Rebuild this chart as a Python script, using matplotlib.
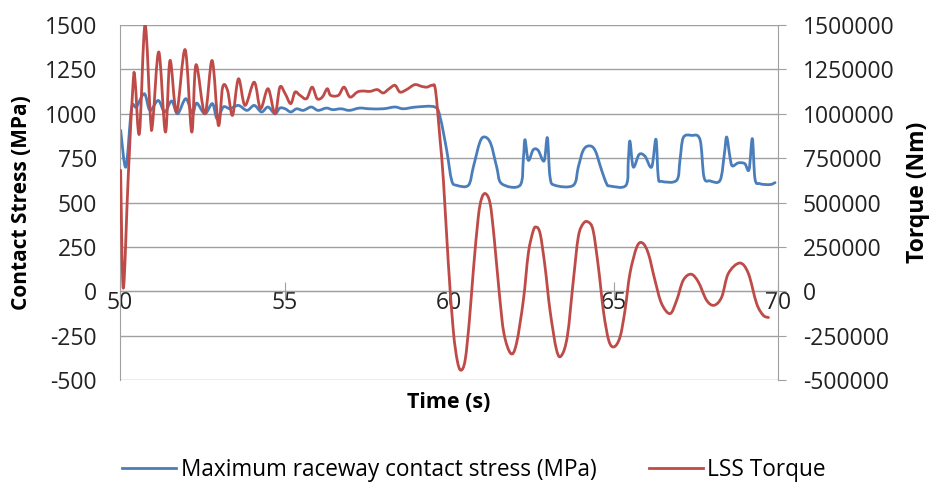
import matplotlib
matplotlib.use('Agg')
import matplotlib.pyplot as plt
from matplotlib.ticker import StrMethodFormatter
from matplotlib.path import Path
from matplotlib.patches import PathPatch
from matplotlib.lines import Line2D

plt.rcParams['font.family'] = ['Open Sans', 'DejaVu Sans']
plt.rcParams['axes.unicode_minus'] = False

# Maximum raceway contact stress (MPa)
stress_t = [50.02, 50.18, 50.35, 50.5, 50.74, 50.91, 51.16, 51.36, 51.57, 51.75,
            52.0, 52.2, 52.33, 52.58, 52.81, 52.95, 53.14, 53.34, 53.6, 53.86,
            54.08, 54.3, 54.5, 54.71, 54.86, 55.02, 55.19, 55.37, 55.57, 55.81,
            56.02, 56.27, 56.47, 56.72, 56.97, 57.28, 57.58, 58.0, 58.36, 58.61,
            59.01, 59.57, 59.73, 59.93, 60.08, 60.23, 60.59, 60.74, 60.94, 61.09,
            61.27, 61.45, 61.6, 62.16, 62.26, 62.31, 62.41, 62.56, 62.71, 62.89,
            62.99, 63.07, 63.22, 63.78, 63.93, 64.08, 64.26, 64.44, 64.64, 64.79,
            64.89, 65.38, 65.45, 65.5, 65.6, 65.78, 65.96, 66.16, 66.29, 66.36,
            66.46, 66.92, 67.02, 67.12, 67.37, 67.63, 67.75, 67.93, 68.24, 68.37,
            68.44, 68.54, 68.61, 68.79, 68.99, 69.12, 69.22, 69.3, 69.45, 69.76,
            69.91]
stress_mpa = [907, 700, 1029, 1038, 1113, 1019, 1075, 1010, 1072, 1000,
              1085, 1000, 1060, 1000, 1057, 972, 1038, 1029, 1047, 1019,
              1047, 1010, 1038, 1000, 1032, 1028, 1010, 1028, 1019, 1038,
              1019, 1032, 1023, 1028, 1019, 1032, 1028, 1028, 1038, 1028,
              1038, 1038, 981, 794, 625, 597, 597, 700, 841, 869,
              831, 700, 606, 597, 747, 854, 738, 797, 794, 734,
              865, 644, 597, 597, 700, 794, 819, 794, 681, 606,
              593, 597, 738, 846, 700, 771, 760, 700, 856, 644,
              619, 625, 738, 865, 878, 854, 644, 622, 625, 775,
              869, 756, 706, 723, 719, 685, 860, 634, 606, 601,
              612]

# LSS torque (Nm)
torque_t = [50.02, 50.1, 50.25, 50.4, 50.46, 50.59, 50.76, 50.93, 51.0, 51.18,
            51.38, 51.52, 51.72, 51.98, 52.18, 52.31, 52.58, 52.8, 52.99, 53.12,
            53.27, 53.42, 53.6, 53.8, 54.08, 54.27, 54.5, 54.71, 54.86, 55.02,
            55.19, 55.32, 55.47, 55.67, 55.84, 55.99, 56.15, 56.3, 56.4, 56.64,
            56.81, 56.99, 57.21, 57.37, 57.6, 57.82, 58.0, 58.18, 58.36, 58.51,
            58.71, 58.96, 59.17, 59.33, 59.49, 59.59, 59.73, 59.83, 59.98, 60.13,
            60.25, 60.36, 60.49, 60.62, 60.74, 60.89, 60.99, 61.11, 61.25, 61.37,
            61.53, 61.67, 61.88, 62.05, 62.26, 62.41, 62.55, 62.64, 62.77, 62.92,
            63.07, 63.27, 63.42, 63.6, 63.78, 63.93, 64.08, 64.23, 64.38, 64.54,
            64.7, 64.86, 65.02, 65.2, 65.35, 65.5, 65.71, 65.88, 66.06, 66.26,
            66.46, 66.72, 66.92, 67.12, 67.36, 67.58, 67.83, 68.06, 68.29, 68.49,
            68.84, 69.1, 69.35, 69.55, 69.71]
torque_nm = [681000, 17000, 644000, 1178000, 1185000, 889000, 1500000, 963000, 963000, 1348000,
             897000, 1300000, 1010000, 1361000, 897000, 1276000, 1000000, 1300000, 935000, 1150000,
             1131000, 991000, 1197000, 1047000, 1178000, 1029000, 1141000, 1000000, 1150000, 1113000,
             1057000, 1122000, 1104000, 1085000, 1150000, 1085000, 1094000, 1141000, 1104000, 1104000,
             1150000, 1094000, 1122000, 1128000, 1126000, 1136000, 1117000, 1141000, 1160000, 1122000,
             1136000, 1164000, 1154000, 1150000, 1160000, 1132000, 850000, 625000, 156000, -220000,
             -389000, -445000, -389000, -163000, 118000, 418000, 522000, 550000, 494000, 306000,
             -13000, -238000, -351000, -295000, -51000, 212000, 334000, 362000, 325000, 137000,
             -107000, -332000, -362000, -250000, 62000, 306000, 381000, 390000, 343000, 137000,
             -120000, -280000, -313000, -257000, -107000, 100000, 250000, 272000, 212000, 62000,
             -69000, -126000, -51000, 62000, 96000, 52000, -51000, -79000, -32000, 100000,
             159000, 100000, -69000, -135000, -148000]

x_ticks = [50, 55, 60, 65, 70]
left_ticks = [-500, -250, 0, 250, 500, 750, 1000, 1250, 1500]
right_ticks = [-500000, -250000, 0, 250000, 500000, 750000, 1000000, 1250000, 1500000]

blue = '#4A7EBB'
red = '#BE4B48'
grey = '#a0a0a0'
txt = '#222222'


def smooth_line(ax, xs, ys, color):
    # Excel style "smoothed line": cubic bezier through every data point
    n = len(xs)
    verts = [(xs[0], ys[0])]
    codes = [Path.MOVETO]
    for i in range(n - 1):
        a = max(i - 1, 0)
        b = min(i + 2, n - 1)
        c1 = (xs[i] + (xs[i + 1] - xs[a]) / 6, ys[i] + (ys[i + 1] - ys[a]) / 6)
        c2 = (xs[i + 1] - (xs[b] - xs[i]) / 6, ys[i + 1] - (ys[b] - ys[i]) / 6)
        verts += [c1, c2, (xs[i + 1], ys[i + 1])]
        codes += [Path.CURVE4] * 3
    patch = PathPatch(Path(verts, codes), fill=False, edgecolor=color, lw=2.0,
                      joinstyle='round', capstyle='round')
    ax.add_patch(patch)


fig = plt.figure(figsize=(9.34, 4.84), dpi=100)
ax = fig.add_axes([120 / 934, 1 - 380 / 484, 658 / 934, 355 / 484])
ax2 = ax.twinx()

smooth_line(ax, stress_t, stress_mpa, blue)
smooth_line(ax2, torque_t, torque_nm, red)

ax.set_xlim(50, 70)
ax.set_ylim(-500, 1500)
ax2.set_ylim(-500000, 1500000)
ax.set_xticks(x_ticks)
ax.set_yticks(left_ticks)
ax2.set_yticks(right_ticks)
ax.yaxis.set_major_formatter(StrMethodFormatter('{x:.0f}'))
ax2.yaxis.set_major_formatter(StrMethodFormatter('{x:.0f}'))

# horizontal grid, x axis sitting on zero
ax.grid(axis='y', color=grey, lw=1.0)
ax.set_axisbelow(True)
ax.spines['bottom'].set_position(('data', 0))
ax.spines['top'].set_visible(False)
ax.spines['right'].set_visible(False)
for s in ['top', 'bottom', 'left']:
    ax2.spines[s].set_visible(False)
ax.spines['left'].set_color(grey)
ax.spines['bottom'].set_color(grey)
ax2.spines['right'].set_color(grey)

ax.tick_params(axis='x', direction='inout', length=13, color=grey, pad=-7,
               labelsize=16.5, labelcolor=txt)
ax.tick_params(axis='y', length=0, pad=16.5, labelsize=16.5, labelcolor=txt)
ax2.tick_params(axis='y', direction='out', length=6, color=grey, pad=12,
                labelsize=16.5, labelcolor=txt)

fig.text(449 / 934, 1 - 403 / 484, 'Time (s)', ha='center', va='center',
         fontsize=15.5, fontweight='bold')
fig.text(22 / 934, 1 - 203 / 484, 'Contact Stress (MPa)', ha='center', va='center',
         rotation=90, fontsize=15, fontweight='bold')
fig.text(918 / 934, 1 - 192 / 484, 'Torque (Nm)', ha='center', va='center',
         rotation=90, fontsize=16.5, fontweight='bold')

handles = [Line2D([], [], color=blue, lw=2.0), Line2D([], [], color=red, lw=2.0)]
labels = ['Maximum raceway contact stress (MPa)', 'LSS Torque']
fig.legend(handles, labels, loc='center', bbox_to_anchor=(474 / 934, 1 - 470 / 484),
           ncol=2, frameon=False, fontsize=16.3, handlelength=2.4, handletextpad=0.2,
           columnspacing=2.3)

fig.savefig('out.png', dpi=100)
